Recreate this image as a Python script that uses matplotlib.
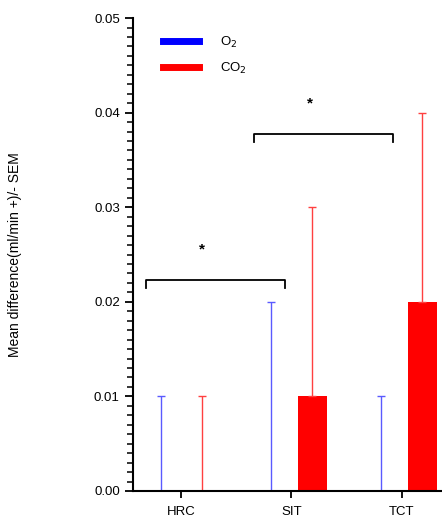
import numpy as np
import matplotlib
matplotlib.use("Agg")
import matplotlib.pyplot as plt
from matplotlib.lines import Line2D

plt.rcParams["font.family"] = ["Liberation Sans", "DejaVu Sans"]

categories = ["HRC", "SIT", "TCT"]
o2_mean = [0.0, 0.0, 0.0]
o2_sem = [0.01, 0.02, 0.01]
co2_mean = [0.0, 0.01, 0.02]
co2_sem = [0.01, 0.02, 0.02]

# significance brackets: (x_left, x_right, y, label)
brackets = [(-0.32, 0.94, 0.0223, "*"), (0.66, 1.92, 0.0377, "*")]

fig = plt.figure(figsize=(4.42, 5.22), dpi=100)
ax = fig.add_axes([0.301, 0.0594, 0.697, 0.906])

x = np.arange(len(categories))
off = 0.19
w = 0.26

ax.bar(x - off, o2_mean, w, color="blue", label="O$_2$")
ax.errorbar(x - off, o2_mean, yerr=[np.zeros(3), o2_sem], fmt="none",
            ecolor="#5a5aff", elinewidth=1, capsize=3, capthick=1)
ax.bar(x + off, co2_mean, w, color="red", label="CO$_2$")
ax.errorbar(x + off, co2_mean, yerr=[np.zeros(3), co2_sem], fmt="none",
            ecolor="#ff4040", elinewidth=1, capsize=3, capthick=1)

for x0, x1, y, lab in brackets:
    ax.plot([x0, x0, x1, x1], [y - 0.0008, y, y, y - 0.0008], color="black", lw=1.3)
    ax.text((x0 + x1) / 2 - 0.12, y + 0.0025, lab, ha="center", va="bottom",
            fontsize=11, fontweight="bold")

ax.set_xlim(-0.44, 2.36)
ax.set_ylim(0, 0.05)
ax.set_yticks(np.arange(0, 0.051, 0.01))
ax.set_yticklabels(["0.00", "0.01", "0.02", "0.03", "0.04", "0.05"])
ax.set_yticks(np.arange(0, 0.05, 0.001), minor=True)
ax.set_xticks(x)
ax.set_xticklabels(categories)
ax.tick_params(axis="both", labelsize=9.5, width=1.3, length=6)
ax.tick_params(axis="y", which="minor", width=1.1, length=4)
ax.tick_params(axis="x", length=5, pad=6)
ax.spines["top"].set_visible(False)
ax.spines["right"].set_visible(False)
ax.spines["left"].set_linewidth(1.5)
ax.spines["bottom"].set_linewidth(1.5)
ax.set_ylabel("Mean difference(ml/min +)/- SEM", fontsize=10, labelpad=52)

handles = [Line2D([], [], color="blue", lw=5), Line2D([], [], color="red", lw=5)]
ax.legend(handles, ["O$_2$", "CO$_2$"], loc="upper left", bbox_to_anchor=(0.06, 0.99),
          frameon=False, fontsize=9.5, handlelength=2.7, labelspacing=0.85, handletextpad=1.6)

fig.savefig("out.png", dpi=100)
